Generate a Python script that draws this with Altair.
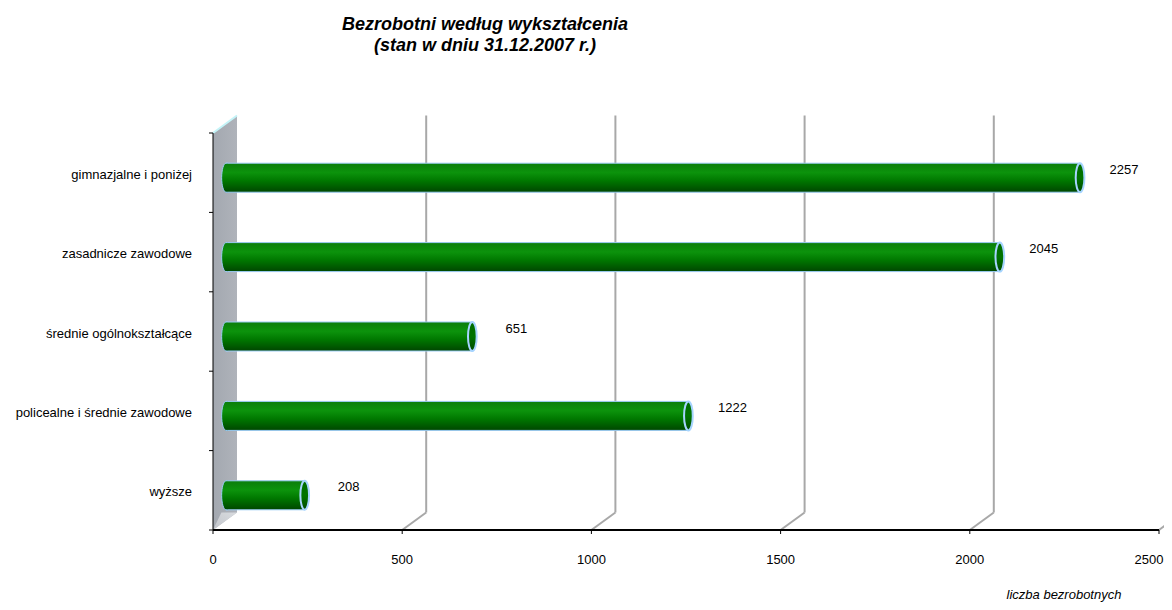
import altair as alt
import pandas as pd

# ---- data -------------------------------------------------------------
categories = [
    "gimnazjalne i poniżej",
    "zasadnicze zawodowe",
    "średnie ogólnokształcące",
    "policealne i średnie zawodowe",
    "wyższe",
]
values = [2257, 2045, 651, 1222, 208]
x_ticks = [0, 500, 1000, 1500, 2000, 2500]
title_lines = ["Bezrobotni według wykształcenia", "(stan w dniu 31.12.2007 r.)"]
x_title = "liczba bezrobotnych"

# ---- layout constants --------------------------------------------------
W, H = 946, 397          # plot area
DX, DY = 24, -17.5        # 3D depth offset (px)
FONT = "Liberation Sans"

df = pd.DataFrame({
    "cat": categories,
    "value": values,
    "pos": [i + 0.5 for i in range(len(categories))],
    "start": [0] * len(categories),
})
tick_df = pd.DataFrame({"v": x_ticks[:-1]})
last_tick_df = pd.DataFrame({"v": x_ticks[-1:]})
all_tick_df = pd.DataFrame({"v": x_ticks})
grid_df = pd.DataFrame({"v": x_ticks[1:]})
bound_df = pd.DataFrame({"b": list(range(len(categories) + 1))})
one = pd.DataFrame({"k": [0]})

xs = alt.Scale(domain=[x_ticks[0], x_ticks[-1]], nice=False, zero=False)
ys = alt.Scale(domain=[0, len(categories)], reverse=True, nice=False, zero=False)

K = 0.5523


def ellipse_path(a):
    return (f"M0,-1 C{a*K:.4f},-1 {a:.4f},{-K:.4f} {a:.4f},0 "
            f"C{a:.4f},{K:.4f} {a*K:.4f},1 0,1 "
            f"C{-a*K:.4f},1 {-a:.4f},{K:.4f} {-a:.4f},0 "
            f"C{-a:.4f},{-K:.4f} {-a*K:.4f},-1 0,-1 Z")


def left_cap_path(a):
    return (f"M0.12,-1 L0,-1 C{-a*K:.4f},-1 {-a:.4f},{-K:.4f} {-a:.4f},0 "
            f"C{-a:.4f},{K:.4f} {-a*K:.4f},1 0,1 L0.12,1")


bar_grad = alt.Gradient(
    gradient="linear", x1=0, x2=0, y1=0, y2=1,
    stops=[
        alt.GradientStop(offset=0.0, color="#0b7d0b"),
        alt.GradientStop(offset=0.32, color="#0c930c"),
        alt.GradientStop(offset=0.6, color="#007800"),
        alt.GradientStop(offset=1.0, color="#004600"),
    ],
)
cap_grad = alt.Gradient(
    gradient="linear", x1=0, x2=0, y1=0, y2=1,
    stops=[
        alt.GradientStop(offset=0.0, color="#006a00"),
        alt.GradientStop(offset=0.5, color="#007400"),
        alt.GradientStop(offset=1.0, color="#004a00"),
    ],
)
wall_grad = alt.Gradient(
    gradient="linear", x1=0, x2=1, y1=0, y2=0,
    stops=[
        alt.GradientStop(offset=0.0, color="#a3a8b0"),
        alt.GradientStop(offset=1.0, color="#afb3ba"),
    ],
)
floor_grad = alt.Gradient(
    gradient="linear", x1=0, x2=1, y1=1, y2=0,
    stops=[
        alt.GradientStop(offset=0.0, color="#c9ccd1"),
        alt.GradientStop(offset=1.0, color="#e4e6e9"),
    ],
)

# ---- back wall (parallelogram, symbol path in pixel units: size 4 -> scale 1)
wall_path = f"M0,0 L{DX},{DY} L{DX},{H + DY} L0,{H} Z"
wall = alt.Chart(one).mark_point(
    shape=wall_path, size=4, filled=True, fill=wall_grad, opacity=1, strokeWidth=0
).encode(x=alt.value(0), y=alt.value(0))
floor_path = f"M0,{H} L{DX},{H + DY} L{DX * 0.35},{H + DY} Z"
wall_floor = alt.Chart(one).mark_point(
    shape=floor_path, size=4, filled=True, fill=floor_grad, opacity=0.8, strokeWidth=0
).encode(x=alt.value(0), y=alt.value(0))
wall_edge = alt.Chart(one).mark_point(
    shape=f"M0,0 L{DX},{DY}", size=4, filled=False, stroke="#c4f4f8",
    strokeWidth=2, opacity=1
).encode(x=alt.value(0), y=alt.value(0))

# ---- 3D gridlines
grid_v = alt.Chart(grid_df).mark_rule(
    xOffset=DX, x2Offset=DX, color="#a8a8a8", strokeWidth=2
).encode(
    x=alt.X("v:Q", scale=xs, axis=None), x2="v:Q",
    y=alt.value(DY), y2=alt.value(H + DY),
)
grid_d = alt.Chart(grid_df).mark_rule(
    xOffset=0, x2Offset=DX, color="#a8a8a8", strokeWidth=2
).encode(
    x=alt.X("v:Q", scale=xs, axis=None), x2="v:Q",
    y=alt.value(H), y2=alt.value(H + DY),
)

# ---- axes drawn as marks
x_domain = alt.Chart(one).mark_rule(color="black", strokeWidth=2).encode(
    x=alt.value(0), x2=alt.value(W), y=alt.value(H),
)
x_tick_marks = alt.Chart(all_tick_df).mark_rule(color="black", strokeWidth=1).encode(
    x=alt.X("v:Q", scale=xs, axis=None), y=alt.value(H), y2=alt.value(H + 4),
)
x_tick_labels = alt.Chart(tick_df).mark_text(
    font=FONT, fontSize=13, color="black", align="center", baseline="middle",
).encode(
    x=alt.X("v:Q", scale=xs, axis=None), y=alt.value(H + 29.5), text="v:Q",
)
# last label nudged left so it stays inside the page
x_last_label = alt.Chart(last_tick_df).mark_text(
    font=FONT, fontSize=13, color="black", align="center", baseline="middle", dx=-10,
).encode(
    x=alt.X("v:Q", scale=xs, axis=None), y=alt.value(H + 29.5), text="v:Q",
)
y_domain = alt.Chart(one).mark_rule(color="black", strokeWidth=1).encode(
    x=alt.value(0), y=alt.value(0), y2=alt.value(H),
)
y_tick_marks = alt.Chart(bound_df).mark_rule(color="black", strokeWidth=1).encode(
    y=alt.Y("b:Q", scale=ys, axis=None), x=alt.value(-4), x2=alt.value(0),
)

# ---- cylinders
BO = 13   # x shift of cylinder
YC = 5    # y shift of cylinder centre
HALF = 14.5

bars = alt.Chart(df).mark_rect(
    fill=bar_grad, stroke="#9ccbf5", strokeWidth=1,
    xOffset=BO, x2Offset=BO, yOffset=YC - HALF, y2Offset=YC + HALF,
).encode(
    x=alt.X("start:Q", scale=xs, axis=None),
    x2="value:Q",
    y=alt.Y("pos:Q", scale=ys, axis=None),
    y2="pos:Q",
)

left_cap = alt.Chart(df).mark_point(
    shape=left_cap_path(0.3), size=(2 * HALF) ** 2, filled=True, fill=bar_grad,
    stroke="#9ccbf5", strokeWidth=1, opacity=1, xOffset=BO, yOffset=YC,
).encode(
    x=alt.X("start:Q", scale=xs, axis=None),
    y=alt.Y("pos:Q", scale=ys, axis=None),
)

right_cap = alt.Chart(df).mark_point(
    shape=ellipse_path(0.3), size=(2 * HALF) ** 2, filled=True, fill=cap_grad,
    stroke="#a6d4ff", strokeWidth=2, opacity=1, xOffset=BO, yOffset=YC,
).encode(
    x=alt.X("value:Q", scale=xs, axis=None),
    y=alt.Y("pos:Q", scale=ys, axis=None),
)

value_labels = alt.Chart(df).mark_text(
    font=FONT, fontSize=13, color="black", align="center", baseline="middle",
    dx=57, dy=-3,
).encode(
    x=alt.X("value:Q", scale=xs, axis=None),
    y=alt.Y("pos:Q", scale=ys, axis=None),
    text="value:Q",
)

cat_labels = alt.Chart(df).mark_text(
    font=FONT, fontSize=13, color="black", align="right", baseline="middle", dy=2,
).encode(
    x=alt.value(-21),
    y=alt.Y("pos:Q", scale=ys, axis=None),
    text="cat:N",
)

title = alt.Chart(one).mark_text(
    text=title_lines, font=FONT, fontSize=18, fontWeight="bold", fontStyle="italic",
    color="black", align="center", baseline="alphabetic", lineHeight=21,
).encode(x=alt.value(272), y=alt.value(-103))

axis_title = alt.Chart(one).mark_text(
    text=x_title, font=FONT, fontSize=13, fontStyle="italic", color="black",
    align="center", baseline="alphabetic",
).encode(x=alt.value(851), y=alt.value(466))

chart = alt.layer(
    wall, wall_floor, wall_edge, grid_v, grid_d, bars, left_cap, right_cap,
    x_domain, x_tick_marks, y_domain, y_tick_marks,
    x_tick_labels, x_last_label, value_labels, cat_labels, title, axis_title,
).properties(
    width=W, height=H,
    autosize=alt.AutoSizeParams(type="none"),
    padding={"left": 205, "top": 125, "right": 5, "bottom": 72},
    background="white",
).configure_view(stroke=None)

chart.save("out.html", embed_options={"renderer": "svg", "actions": False})
